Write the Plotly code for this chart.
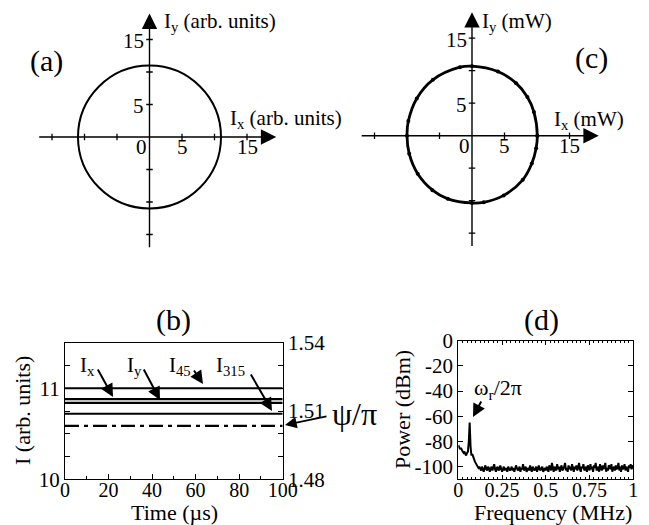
import numpy as np
import plotly.graph_objects as go

W, H = 649, 525
FONT = "Liberation Serif, Times New Roman, serif"

# ---------------- data ----------------
# (a) ideal circle in the Ix-Iy plane (arb. units)
a_radius = 11.0
# (c) measured polarisation circle (mW), radius read at several angles
c_angle_deg = [0, 21, 35, 50, 68, 90, 100, 125, 146, 167, 180, 196, 215, 234,
               249, 270, 280, 298, 319, 335, 349, 360]
c_radius = [10.05, 10.2, 10.4, 10.55, 10.65, 10.7, 10.7, 10.5, 10.25, 10.05, 10.0,
            10.05, 10.2, 10.35, 10.4, 10.35, 10.4, 10.4, 10.35, 10.15, 10.05, 10.05]
quad_ticks = [-15, -10, -5, 5, 10, 15]

# (b) intensities vs time
b_time = [0, 100]
b_names = ["I45", "Ix", "Iy", "I315"]
b_levels = [11.0, 10.88, 10.84, 10.72]
b_psi = 1.5035          # psi/pi on the right axis

# (d) power spectrum (dBm), uniform frequency grid 0..1 MHz
d_power = [
    -83, -85, -86, -85, -87, -88, -89, -88, -90, -91, -89, -88, -80, -65, -84,
    -91, -90, -93, -94, -96, -97, -98, -99, -101, -100,
    -101, -103, -100, -102, -104, -101, -99, -102, -103, -100, -101, -104, -102,
    -100, -103, -101, -98, -102, -104, -101, -100, -103, -102, -99, -101, -104,
    -102, -100, -103, -101, -102, -104, -100, -101, -103, -102,
    -100, -103, -101, -104, -102, -99, -101, -103, -102, -100, -104, -101, -102,
    -98, -103, -101, -100, -104, -102, -101, -103, -99, -102, -104, -100, -101,
    -103, -102, -100, -104, -101, -99, -102, -103, -101, -100, -104, -102, -101,
    -103,
    -100, -102, -104, -99, -101, -103, -97, -102, -104, -100, -101, -103, -98,
    -102, -100, -104, -101, -99, -103, -102, -100, -97, -103, -101, -104, -99,
    -102, -100, -103, -98, -101, -104, -100, -102, -99, -103, -101, -97, -102,
    -104, -100, -101, -98, -103, -102, -100, -104, -99, -101, -103,
    -98, -102, -100, -104, -99, -101, -97, -103, -102, -100, -104, -98, -101,
    -103, -99, -102, -100, -97, -104, -101, -103, -99, -100, -102, -98, -104,
    -101, -100, -103, -99, -102, -101, -97, -103, -100, -104, -99, -102, -101,
    -98, -103, -100, -102, -104, -99, -101, -98, -102, -100, -99,
]
d_freq = np.linspace(0, 1, len(d_power))
d_xticks = [0, 0.25, 0.5, 0.75, 1]
d_xticktext = ["0", "0.25", "0.5", "0.75", "1"]
d_yticks = [0, -20, -40, -60, -80, -100]
d_yticktext = ["0", "-20", "-40", "-60", "-80", "-100"]


def fx(p):
    return p / W


def fy(p):
    return 1 - p / H


fig = go.Figure()

# ---------------- (a) ----------------
fig.add_shape(type="circle", xref="x", yref="y",
              x0=-a_radius, x1=a_radius, y0=-a_radius, y1=a_radius,
              line=dict(color="black", width=2))

# ---------------- (c) ----------------
th = np.deg2rad(c_angle_deg)
cx = np.array(c_radius) * np.cos(th)
cy = np.array(c_radius) * np.sin(th)
fig.add_trace(go.Scatter(x=cx, y=cy, xaxis="x2", yaxis="y2", mode="lines+markers",
                         line=dict(color="black", width=2.8, shape="spline", smoothing=1.0),
                         marker=dict(color="black", size=4), hoverinfo="skip"))

# axes with arrows, ticks and labels for (a) and (c)
for xr, yr in (("x", "y"), ("x2", "y2")):
    fig.add_annotation(xref=xr, yref=yr, axref=xr, ayref=yr, x=19.5, y=0, ax=-17.2, ay=0,
                       text="", showarrow=True, arrowhead=2, arrowsize=2.2, arrowwidth=1.4,
                       arrowcolor="black", standoff=0, startstandoff=0)
    fig.add_annotation(xref=xr, yref=yr, axref=xr, ayref=yr, x=0, y=19.0, ax=0, ay=-17.2,
                       text="", showarrow=True, arrowhead=2, arrowsize=2.2, arrowwidth=1.4,
                       arrowcolor="black", standoff=0, startstandoff=0)
    for t in quad_ticks:
        fig.add_shape(type="line", xref=xr, yref=yr, x0=t, x1=t, y0=-0.5, y1=0.5,
                      line=dict(color="black", width=1.3))
        fig.add_shape(type="line", xref=xr, yref=yr, x0=-0.5, x1=0.5, y0=t, y1=t,
                      line=dict(color="black", width=1.3))
    for lab, xv in (("0", -1.2), ("5", 5), ("15", 15)):
        fig.add_annotation(xref=xr, yref=yr, x=xv, y=-1.6, text=lab, showarrow=False,
                           xanchor="center", yanchor="middle",
                           font=dict(family=FONT, size=21, color="black"))
    for lab, yv in (("15", 14.7), ("5", 4.7)):
        fig.add_annotation(xref=xr, yref=yr, x=-0.5, y=yv, text=lab, showarrow=False,
                           xanchor="right", yanchor="middle",
                           font=dict(family=FONT, size=21, color="black"))

# ---------------- (b) ----------------
for nm, lv in zip(b_names, b_levels):
    fig.add_trace(go.Scatter(x=b_time, y=[lv, lv], xaxis="x3", yaxis="y3", mode="lines",
                             line=dict(color="black", width=2.2), name=nm, hoverinfo="skip"))
fig.add_trace(go.Scatter(x=b_time, y=[b_psi, b_psi], xaxis="x3", yaxis="y4", mode="lines",
                         line=dict(color="black", width=2.2, dash="14px,5px,4px,5px"),
                         hoverinfo="skip"))

# ---------------- (d) ----------------
fig.add_trace(go.Scatter(x=d_freq, y=d_power, xaxis="x4", yaxis="y5", mode="lines",
                         line=dict(color="black", width=2.0), hoverinfo="skip"))

# ---------------- layout ----------------
tf = dict(family=FONT, size=21, color="black")
tfx = dict(family=FONT, size=20, color="black")
hidden = dict(visible=False, fixedrange=True)
b_dom_x = [fx(65), fx(282.7)]
b_dom_y = [fy(479.3), fy(342.7)]
d_dom_x = [fx(458.3), fx(633.3)]
d_dom_y = [fy(479.3), fy(340.7)]

fig.update_layout(
    width=W, height=H, margin=dict(l=0, r=0, t=0, b=0, autoexpand=False),
    paper_bgcolor="white", plot_bgcolor="rgba(0,0,0,0)", showlegend=False,
    font=dict(family=FONT, color="black"),
    xaxis=dict(domain=[fx(13), fx(286)], range=[-21, 21], **hidden),
    yaxis=dict(domain=[fy(267), fy(3.75)], range=[-20, 20.5], **hidden),
    xaxis2=dict(domain=[fx(335.5), fx(608.5)], range=[-21, 21], **hidden),
    yaxis2=dict(domain=[fy(265.7), fy(2.45)], range=[-20, 20.5], **hidden),
    xaxis3=dict(domain=b_dom_x, anchor="y3", range=[0, 100], showgrid=False, zeroline=False,
                showline=True, linecolor="black", linewidth=1.3, mirror=True,
                tickmode="array", tickvals=[0, 20, 40, 60, 80, 100],
                ticks="inside", ticklen=5, tickcolor="black", tickfont=tfx,
                ticklabelstandoff=-7,
                minor=dict(tickmode="linear", tick0=0, dtick=10, ticks="inside",
                           ticklen=3, tickcolor="black")),
    yaxis3=dict(domain=b_dom_y, anchor="x3", range=[10, 11.5], showgrid=False, zeroline=False,
                showline=True, linecolor="black", linewidth=1.3,
                tickmode="array", tickvals=[10, 10.25, 10.5, 10.75, 11, 11.25],
                ticktext=["10", " ", " ", " ", "11", " "],
                ticks="inside", ticklen=5, tickcolor="black", tickfont=tf),
    yaxis4=dict(domain=b_dom_y, anchor="x3", overlaying="y3", side="right", range=[1.48, 1.54],
                showgrid=False, zeroline=False, showline=True, linecolor="black", linewidth=1.3,
                tickmode="array", tickvals=[1.48, 1.49, 1.50, 1.51, 1.52, 1.53, 1.54],
                ticktext=["1.48", " ", " ", "1.51", " ", " ", "1.54"],
                ticks="inside", ticklen=5, tickcolor="black", tickfont=tf),
    xaxis4=dict(domain=d_dom_x, anchor="y5", range=[0, 1], showgrid=False, zeroline=False,
                showline=True, linecolor="black", linewidth=1.3, mirror="ticks",
                tickmode="array", tickvals=d_xticks, ticktext=d_xticktext,
                ticks="inside", ticklen=4, tickcolor="black", tickfont=tfx,
                ticklabelstandoff=-7,
                minor=dict(tickmode="linear", tick0=0, dtick=0.025, ticks="inside",
                           ticklen=2, tickcolor="black")),
    yaxis5=dict(domain=d_dom_y, anchor="x4", range=[-110, 0], showgrid=False, zeroline=False,
                showline=True, linecolor="black", linewidth=1.3, mirror="ticks",
                tickmode="array", tickvals=d_yticks, ticktext=d_yticktext,
                ticks="inside", ticklen=5, tickcolor="black", tickfont=tf),
)


def txt(x, y, s, size=21, xanchor="center", **kw):
    fig.add_annotation(xref="paper", yref="paper", x=fx(x), y=fy(y), text=s,
                       showarrow=False, xanchor=xanchor, yanchor="middle",
                       font=dict(family=FONT, size=size, color="black"), **kw)


def arrow(x0, y0, x1, y1, w=2.0):
    fig.add_annotation(xref="paper", yref="paper", x=fx(x1), y=fy(y1), ax=x0 - x1, ay=y0 - y1,
                       text="", showarrow=True, arrowhead=2, arrowsize=1.3, arrowwidth=w,
                       arrowcolor="black", standoff=0, startstandoff=0)


# panel labels
txt(46, 61, "(a)", 30)
txt(591, 58, "(c)", 30)
txt(173, 320, "(b)", 30)
txt(541, 320, "(d)", 30)

# axis labels of (a) and (c)
txt(162, 22, "I<sub>y</sub> (arb. units)", 21, xanchor="left")
txt(228, 119, "I<sub>x</sub> (arb. units)", 21, xanchor="left")
txt(480, 22, "I<sub>y</sub> (mW)", 21, xanchor="left")
txt(552, 120, "I<sub>x</sub> (mW)", 21, xanchor="left")

# axis titles of (b) and (d)
txt(22, 411, "I (arb. units)", 22, textangle=-90)
txt(174, 512, "Time (µs)", 22)
txt(402, 410, "Power (dBm)", 22, textangle=-90)
txt(553, 512, "Frequency (MHz)", 22)

# (b) series labels and arrows
txt(87, 366, "I<sub>x</sub>", 21)
txt(134, 366, "I<sub>y</sub>", 21)
txt(180, 366, "I<sub>45</sub>", 21)
txt(230, 366, "I<sub>315</sub>", 21)
arrow(97, 368, 113, 397)
arrow(143, 368, 160, 400)
arrow(193, 369, 203, 384)
arrow(250, 373, 272, 411)
txt(354, 414, "ψ/π", 32)
arrow(328, 416, 285, 425, 1.8)

# (d) label
txt(498, 389, "ω<sub>r</sub>/2π", 22)
arrow(482, 400, 473, 417)

fig.write_html("out.html")
